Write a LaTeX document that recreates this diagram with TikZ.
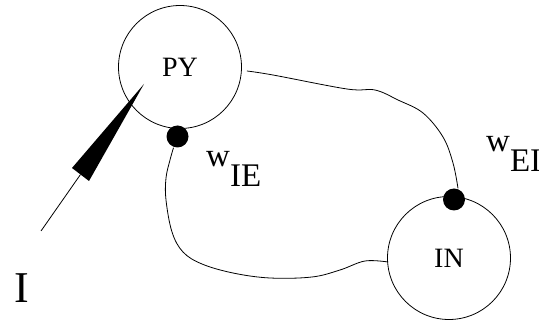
\documentclass[tikz,border=0pt]{standalone}
\usepackage{fontspec}
\setmainfont{Liberation Serif}
\usetikzlibrary{calc}
\begin{document}
\begin{tikzpicture}[x=1pt,y=-1pt,
  cell/.style={draw,circle,line width=0.8pt,minimum size=123pt,inner sep=0pt,font=\fontsize{28}{30}\selectfont},
  syn/.style={circle,fill=black,minimum size=22pt,inner sep=0pt},
  wire/.style={line width=0.8pt},
  lab/.style={anchor=base west,inner sep=0pt,font=\fontsize{33}{35}\selectfont}]
\useasboundingbox (0,0) rectangle (539,323);
\node[cell] (PY) at (180,67) {PY};
\node[cell] (IN) at (449,258) {IN};
\node[syn] (PYdot) at (177.5,136.5) {};
\node[syn] (INdot) at (454,199.5) {};
% input wedge
\fill (144,84) -- (72,168) -- (89,181) -- cycle;
\coordinate (wbase) at (80.5,174.5);
\coordinate (wend) at (41,231);
\draw[line width=0.8pt] (wbase) -- (wend);
\node[anchor=base west,inner sep=0pt,font=\fontsize{44}{46}\selectfont] (Ilab) at (14,303) {I};
% connectors
\draw[wire] plot[smooth,tension=0.6] coordinates {($(PY.east)+(5,4)$) (273,75) (347,89) (375,90) (398,100) (423,113) (443,137) (453,163) ($(INdot.north)+(4,0)$)};
\draw[wire] plot[smooth,tension=0.6] coordinates {($(PYdot.south)+(-4,0)$) (170,160) (166,178) (166,200) (172,232) (183,252) (202,264) (233,273) (270,278) (312,277) (340,270) (365,261) (388,262)};
% labels
\node[lab] (wie) at (206,167) {w\raisebox{-20pt}{IE}};
\node[lab] (wei) at (486,152) {w\raisebox{-20pt}{EI}};
\end{tikzpicture}
\end{document}
